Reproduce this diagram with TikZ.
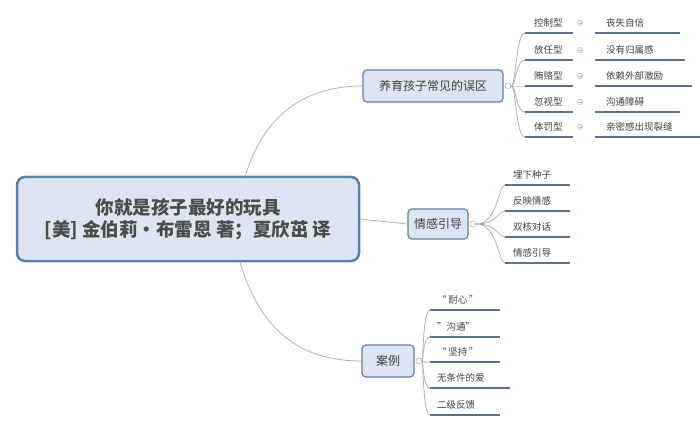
\documentclass[tikz,border=0pt]{standalone}
\usepackage{fontspec}
\setmainfont{Noto Sans CJK SC}
\usetikzlibrary{positioning}
\definecolor{boxfill}{HTML}{DCE6F2}
\definecolor{boxline}{HTML}{5B7FA6}
\definecolor{linkline}{HTML}{A9B4BF}
\definecolor{underline}{HTML}{5A7490}
\tikzset{
  topic/.style={rectangle, rounded corners=4pt, draw=boxline, line width=1.2pt, fill=boxfill, text=black!75, font=\fontsize{12}{14}\selectfont, inner sep=6pt},
  root/.style={topic, rounded corners=8pt, line width=2.5pt, font=\fontsize{18.5}{23}\selectfont\bfseries, text=black!70, align=center},
  item/.style={font=\fontsize{9.5}{11}\selectfont, text=black!75, minimum height=20pt, inner sep=2pt},
  uline/.style={draw=underline, line width=1.2pt},
  link/.style={draw=linkline, line width=0.8pt},
  fold/.style={circle, draw=linkline, fill=white, inner sep=0pt, minimum size=6pt, line width=0.6pt}
}
\begin{document}
\begin{tikzpicture}[x=1pt,y=-1pt]
\useasboundingbox[fill=white] (0,0) rectangle (700,427);
% main topics
\node (root) [root, minimum width=342pt, minimum height=84pt] at (188,219) {你就是孩子最好的玩具\\[-1pt][美] 金伯莉•布雷恩 著；夏欣茁 译};
\node (wrong) [topic, minimum width=140pt, minimum height=32pt] at (433,86) {养育孩子常见的误区};
\node (emo) [topic, minimum width=55pt, minimum height=30pt] at (438,224) {情感引导};
\node (case) [topic, minimum width=52pt, minimum height=32pt] at (388,361) {案例};

\draw [link] (245,177) .. controls (265,110) and (310,86) .. (wrong.west);
\draw [link] (root.east) -- (emo.west);
\draw [link] (240,262) .. controls (260,330) and (300,361) .. (case.west);

\node (fw) [fold, right=1pt of wrong] {};
\node (fe) [fold, right=1pt of emo] {};
\node (fc) [fold, right=1pt of case] {};

% first branch: two columns
\foreach \i/\a/\b/\y/\w in {1/控制型/丧失自信/33/85, 2/放任型/没有归属感/60/90, 3/贿赂型/依赖外部激励/86/97, 4/忽视型/沟通障碍/112/85, 5/体罚型/亲密感出现裂缝/137/105}{
  \coordinate (wa\i) at (525,\y);
  \coordinate (wb\i) at (595,\y);
  \node (ta\i) [item, above right=0pt and 7pt of wa\i] {\a};
  \node (tb\i) [item, above right=0pt and 9pt of wb\i] {\b};
  \node (fx\i) [fold, minimum size=5pt] at (580,\y-10) {};
  \draw [fill=linkline, draw=none] ([xshift=-1.5pt]fx\i.center) rectangle ([xshift=1.5pt,yshift=-0.3pt]fx\i.center);
  \draw [uline] (wa\i) -- ++(48,0);
  \draw [uline] (wb\i) -- ++(\w,0);
  \draw [link] (fw.east) .. controls (516,86) and (516,\y) .. (wa\i);
}

% second branch
\foreach \i/\a/\y in {1/埋下种子/185, 2/反映情感/211, 3/双核对话/237, 4/情感引导/263}{
  \coordinate (ea\i) at (505,\y);
  \node (te\i) [item, above right=0pt and 6pt of ea\i] {\a};
  \draw [uline] (ea\i) -- ++(65,0);
  \draw [link] (fe.east) .. controls (498,224) and (498,\y) .. (ea\i);
}

% third branch
\foreach \i/\a/\y/\w in {1/“\,耐心\,”/310/70, 2/"沟通"/337/70, 3/“\,坚持\,”/362/70, 4/无条件的爱/388/80, 5/二级反馈/415/70}{
  \coordinate (ca\i) at (430,\y);
  \node (tc\i) [item, above right=0pt and 5pt of ca\i] {\a};
  \draw [uline] (ca\i) -- ++(\w,0);
  \draw [link] (fc.east) .. controls (423,361) and (423,\y) .. (ca\i);
}
\end{tikzpicture}
\end{document}
